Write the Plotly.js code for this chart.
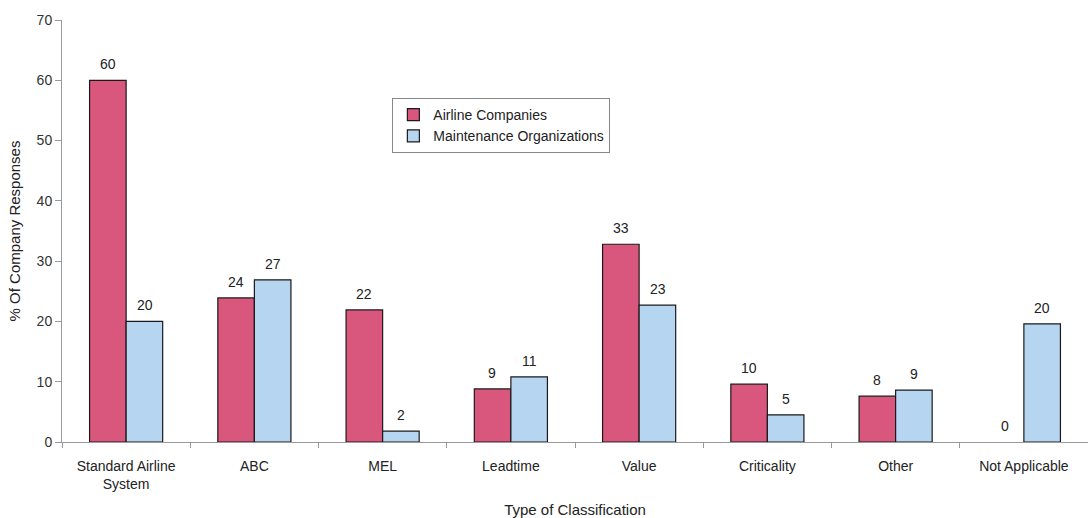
<!DOCTYPE html>
<html>
<head>
<meta charset="utf-8">
<script src="https://cdn.plot.ly/plotly-3.0.1.min.js"></script>
<style>html,body{margin:0;padding:0;background:#fff;}#chart{width:1088px;height:518px;}</style>
</head>
<body>
<div id="chart"></div>
<script>
// Data
const categories = ["Standard Airline<br>System", "ABC", "MEL", "Leadtime", "Value", "Criticality", "Other", "Not Applicable"];
const airlineHeights = [60, 23.9, 21.9, 8.8, 32.8, 9.6, 7.6, 0];
const maintHeights = [20, 26.9, 1.8, 10.8, 22.7, 4.5, 8.6, 19.6];
const airlineLabels = [60, 24, 22, 9, 33, 10, 8, 0];
const maintLabels = [20, 27, 2, 11, 23, 5, 9, 20];
const seriesNames = ["Airline Companies", "Maintenance Organizations"];

const FONT = "Liberation Sans, Arial, Helvetica, sans-serif";
const pink = "#D9577D";
const blue = "#B5D5F0";
const outlineW = h => h.map(v => (v > 0 ? 1.2 : 0));

const traces = [
  {type: "bar", name: seriesNames[0], x: categories, y: airlineHeights,
   marker: {color: pink, line: {color: "#1a1a1a", width: outlineW(airlineHeights)}}, hoverinfo: "none"},
  {type: "bar", name: seriesNames[1], x: categories, y: maintHeights,
   marker: {color: blue, line: {color: "#1a1a1a", width: outlineW(maintHeights)}}, hoverinfo: "none"}
];

const annotations = [];
categories.forEach((c, i) => {
  annotations.push({xref: "x", yref: "y", x: c, y: airlineHeights[i], xshift: -18.5, yshift: 6,
    yanchor: "bottom", text: String(airlineLabels[i]), showarrow: false,
    font: {family: FONT, size: 14, color: "#222"}});
  annotations.push({xref: "x", yref: "y", x: c, y: maintHeights[i], xshift: 18.5, yshift: 6,
    yanchor: "bottom", text: String(maintLabels[i]), showarrow: false,
    font: {family: FONT, size: 14, color: "#222"}});
});

const layout = {
  width: 1088, height: 518,
  margin: {l: 62, r: 0, t: 20, b: 76},
  paper_bgcolor: "#fff", plot_bgcolor: "#fff",
  font: {family: FONT, size: 14, color: "#222"},
  barmode: "group", bargap: 0.43, bargroupgap: 0,
  showlegend: true,
  legend: {x: 0.322, y: 0.815, xanchor: "left", yanchor: "top",
    bgcolor: "#fff", bordercolor: "#888", borderwidth: 1,
    font: {family: FONT, size: 14, color: "#222"}, tracegroupgap: 0,
    itemwidth: 30},
  xaxis: {
    type: "category", showline: true, linecolor: "#999", linewidth: 1,
    ticks: "outside", tickson: "boundaries", ticklen: 5, tickcolor: "#999",
    showgrid: false, zeroline: false, ticklabelstandoff: 11,
    tickfont: {family: FONT, size: 14, color: "#222"},
    title: {text: "Type of Classification", standoff: 18, font: {family: FONT, size: 15, color: "#222"}}
  },
  yaxis: {
    range: [0, 70], dtick: 10, showline: true, linecolor: "#999", linewidth: 1,
    ticks: "outside", ticklen: 6, tickcolor: "#999", showgrid: false, zeroline: false,
    tickfont: {family: FONT, size: 14, color: "#333"},
    title: {text: "% Of Company Responses", standoff: 12, font: {family: FONT, size: 15, color: "#222"}}
  },
  annotations: annotations
};

Plotly.newPlot("chart", traces, layout, {displayModeBar: false, staticPlot: true});
</script>
</body>
</html>
